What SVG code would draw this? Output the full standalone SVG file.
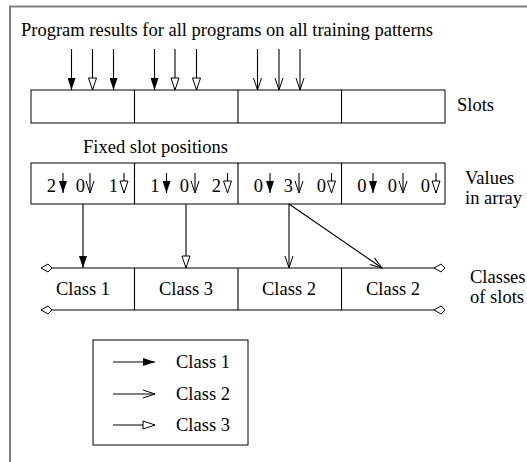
<svg xmlns="http://www.w3.org/2000/svg" width="527" height="462" viewBox="0 0 527 462">
<style>
text{font-family:"Liberation Serif","Times New Roman",serif;font-size:18.5px;fill:#000}
.box{fill:#fff;stroke:#000;stroke-width:1}
.ln{stroke:#000;stroke-width:1.1;fill:none}
.c1{marker-end:url(#hFill)}
.c2{marker-end:url(#hOpen)}
.c3{marker-end:url(#hTri)}
.mid{text-anchor:middle}
.end{text-anchor:end}
</style>
<defs>
<marker id="hFill" markerUnits="userSpaceOnUse" viewBox="0 0 12 8" refX="12" refY="4" markerWidth="12" markerHeight="8" orient="auto">
<path d="M0,0 L12,4 L0,8 z" fill="#000"/>
</marker>
<marker id="hOpen" markerUnits="userSpaceOnUse" viewBox="-1 -1 14 10" refX="12" refY="4" markerWidth="14" markerHeight="10" orient="auto">
<path d="M0,0 L12,4 L0,8" fill="none" stroke="#000" stroke-width="1"/>
</marker>
<marker id="hTri" markerUnits="userSpaceOnUse" viewBox="-1 -1 14 10" refX="12" refY="4" markerWidth="14" markerHeight="10" orient="auto">
<path d="M0,0 L12,4 L0,8 z" fill="#fff" stroke="#000" stroke-width="1"/>
</marker>
<marker id="hEnd" markerUnits="userSpaceOnUse" viewBox="-1 -5 14 10" refX="0" refY="0" markerWidth="14" markerHeight="10" orient="auto">
<path d="M0,0 L7,-4 L11,0 L7,4 z" fill="#fff" stroke="#000" stroke-width="1"/>
</marker>
</defs>
<rect width="527" height="462" fill="#fff"/>
<g id="frame" fill="none" stroke="#808080" stroke-width="2">
<path d="M10,462 V6.5 H527"/>
</g>
<g id="title"><text x="21" y="36">Program results for all programs on all training patterns</text></g>

<g id="slots">
<rect class="box" x="31" y="90" width="414" height="33"/>
<path class="ln" d="M134.5,90V123M238,90V123M341.5,90V123"/>
<text x="457" y="111">Slots</text>
</g>

<g id="fixed-label"><text x="83" y="153">Fixed slot positions</text></g>

<g id="values">
<rect class="box" x="31" y="163" width="414" height="41"/>
<path class="ln" d="M134.5,163V204M238,163V204M341.5,163V204"/>
<text class="end" x="56" y="192">2</text>
<text class="end" x="85" y="192">0</text>
<text class="end" x="118" y="192">1</text>
<text class="end" x="159.5" y="192">1</text>
<text class="end" x="189" y="192">0</text>
<text class="end" x="221" y="192">2</text>
<text class="end" x="263" y="192">0</text>
<text class="end" x="293" y="192">3</text>
<text class="end" x="326" y="192">0</text>
<text class="end" x="366.5" y="192">0</text>
<text class="end" x="397" y="192">0</text>
<text class="end" x="430" y="192">0</text>
<text x="465" y="184">Values</text>
<text x="465" y="204">in array</text>
</g>

<g id="classes">
<path class="ln" d="M134.5,268V310M238,268V310M341.5,268V310"/>
<text class="mid" x="83" y="295">Class 1</text>
<text class="mid" x="186" y="295">Class 3</text>
<text class="mid" x="289" y="295">Class 2</text>
<text class="mid" x="393" y="295">Class 2</text>
<text x="470" y="283">Classes</text>
<text x="470" y="303">of slots</text>
</g>

<g id="legend">
<rect class="box" x="93" y="340" width="155" height="105"/>
<text x="176" y="368">Class 1</text>
<text x="176" y="400">Class 2</text>
<text x="176" y="431">Class 3</text>
</g>

<g id="connectors">
<path class="ln c1" d="M71.5,49V90"/>
<path class="ln c3" d="M92.5,49V90"/>
<path class="ln c1" d="M113.5,49V90"/>
<path class="ln c1" d="M154.5,49V90"/>
<path class="ln c3" d="M175,49V90"/>
<path class="ln c3" d="M196.5,49V90"/>
<path class="ln c2" d="M257.5,49V90"/>
<path class="ln c2" d="M279,49V90"/>
<path class="ln c2" d="M300,49V90"/>
<path class="ln c1" d="M63,173V193"/>
<path class="ln c2" d="M90,173V193"/>
<path class="ln c3" d="M124,173V193"/>
<path class="ln c1" d="M166.5,173V193"/>
<path class="ln c2" d="M195,173V193"/>
<path class="ln c3" d="M227.5,173V193"/>
<path class="ln c1" d="M270,173V193"/>
<path class="ln c2" d="M299,173V193"/>
<path class="ln c3" d="M331.5,173V193"/>
<path class="ln c1" d="M373,173V193"/>
<path class="ln c2" d="M403,173V193"/>
<path class="ln c3" d="M436,173V193"/>
<path class="ln c1" d="M83,204V268"/>
<path class="ln c3" d="M186,204V268"/>
<path class="ln c2" d="M289,204V268"/>
<path class="ln c2" d="M289,204L382,268"/>
<path class="ln" d="M41,268H434" marker-start="url(#hEnd)" marker-end="url(#hEnd)"/>
<path class="ln" d="M41,310H434" marker-start="url(#hEnd)" marker-end="url(#hEnd)"/>
<path class="ln c1" d="M113,362H155"/>
<path class="ln c2" d="M113,394H155"/>
<path class="ln c3" d="M113,425H155"/>
</g>
</svg>
